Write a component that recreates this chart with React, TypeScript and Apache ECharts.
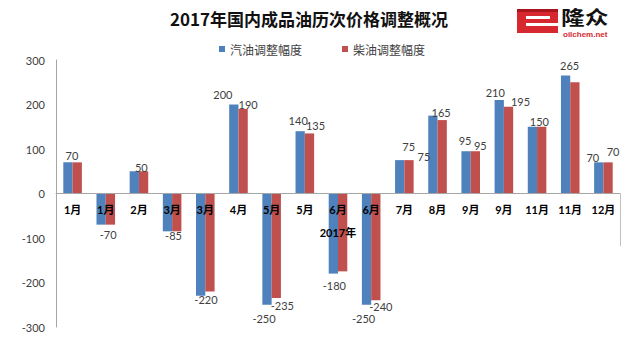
import React, { useEffect, useRef } from "react";
import * as echarts from "echarts";

// Adjustment rounds of 2017 (yuan / tonne)
const categories = ["1月", "1月", "2月", "3月", "3月", "4月", "5月", "5月", "6月", "6月", "7月", "8月", "9月", "9月", "11月", "11月", "12月"];
const gasoline = [70, -70, 50, -85, -230, 200, -250, 140, -180, -250, 75, 175, 95, 210, 150, 265, 70];
const diesel = [70, -70, 50, -85, -220, 190, -235, 135, -175, -240, 75, 165, 95, 195, 150, 250, 70];
const seriesNames = ["汽油调整幅度", "柴油调整幅度"];
const yMin = -300;
const yMax = 300;
const yStep = 100;

// Per-bar label placement (pixel nudges), null = no label on that bar
type Nudge = [number, number] | null;
const gasolineLabelNudge: Nudge[] = [[4, 4], [7, -1], [7, 7], [6, -6], null, [-11, 0], [-3, 3], [-2, 0], [1, 1], [-3, 3], [9, -3], null, [-1, 0], [-4, 3], [7, 5], [4, 0], [-6, 6]];
const dieselLabelNudge: Nudge[] = [null, null, null, null, [-4, -2], [5, 6], [6, -3], [6, 3], null, [5, -4], [15, 7], [-1, 3], [5, 5], [12, 5], null, null, [5, 0]];

const LATIN = "Lato, 'Noto Sans CJK SC', sans-serif";
const CJK = "'Noto Sans CJK SC', sans-serif";
const BLUE = "#4F81BD";
const RED = "#C0504D";

// plot area
const GRID_TOP = 60;
const GRID_BOTTOM = 17;
const GRID_LEFT = 56;
const GRID_RIGHT = 20;
const CHART_H = 344;

function withLabels(values: number[], nudges: Nudge[]) {
  return values.map((v, i) => {
    const n = nudges[i];
    return {
      value: v,
      label: n ? { show: true, offset: n } : { show: false },
    };
  });
}

export default function App() {
  const ref = useRef<HTMLDivElement>(null);

  useEffect(() => {
    if (!ref.current) return;
    const chart = echarts.init(ref.current, null, { renderer: "svg" });

    // the category axis sits on the zero line of the value axis
    const plotH = CHART_H - GRID_TOP - GRID_BOTTOM;
    const zeroFromBottom = (plotH * (0 - yMin)) / (yMax - yMin);

    const barLabel = {
      position: "outside",
      distance: 5,
      fontSize: 11,
      color: "#404040",
      fontFamily: LATIN,
    };
    chart.setOption({
      animation: false,
      backgroundColor: "#ffffff",
      title: {
        text: "2017年国内成品油历次价格调整概况",
        left: 170,
        top: 10,
        padding: 0,
        textStyle: { fontSize: 17, fontWeight: "bold", color: "#111", fontFamily: CJK },
      },
      legend: {
        data: seriesNames,
        left: 219,
        top: 43,
        padding: 0,
        icon: "rect",
        itemWidth: 6,
        itemHeight: 6,
        itemGap: 40,
        textStyle: { fontSize: 12, color: "#404040", fontFamily: CJK },
      },
      grid: {
        left: GRID_LEFT,
        right: GRID_RIGHT,
        top: GRID_TOP,
        bottom: GRID_BOTTOM,
        containLabel: false,
        outerBoundsMode: "none",
      },
      xAxis: {
        type: "category",
        data: categories,
        position: "bottom",
        offset: -zeroFromBottom,
        z: 5,
        axisLine: { onZero: false, lineStyle: { color: "#a6a6a6", width: 1 } },
        axisTick: { show: false },
        axisLabel: {
          interval: 0,
          margin: 10,
          fontSize: 11,
          fontWeight: "bold",
          color: "#000",
          fontFamily: LATIN,
        },
        name: "2017年",
        nameLocation: "middle",
        nameGap: 33,
        nameTextStyle: { fontSize: 11, fontWeight: "bold", color: "#000", fontFamily: LATIN },
      },
      yAxis: {
        type: "value",
        min: yMin,
        max: yMax,
        interval: yStep,
        axisLine: { show: true, lineStyle: { color: "#a6a6a6", width: 1 } },
        axisTick: { show: false },
        splitLine: { show: false },
        axisLabel: { fontSize: 11, color: "#404040", margin: 11, fontFamily: LATIN },
      },
      series: [
        {
          name: seriesNames[0],
          type: "bar",
          barWidth: "28%",
          barGap: "0%",
          itemStyle: { color: BLUE },
          label: barLabel,
          data: withLabels(gasoline, gasolineLabelNudge),
        },
        {
          name: seriesNames[1],
          type: "bar",
          barWidth: "28%",
          barGap: "0%",
          itemStyle: { color: RED },
          label: barLabel,
          data: withLabels(diesel, dieselLabelNudge),
        },
      ],
      graphic: [
        // closing tick of the category axis group
        {
          type: "line",
          shape: { x1: 620.5, y1: 193.5, x2: 620.5, y2: 246 },
          style: { stroke: "#bfbfbf", lineWidth: 1 },
        },
        // oilchem logo
        {
          type: "group",
          children: [
            { type: "rect", shape: { x: 517, y: 9, width: 41, height: 24 }, style: { fill: "#d7282f" } },
            { type: "rect", shape: { x: 517, y: 9, width: 41, height: 3 }, style: { fill: "#a8161c" } },
            { type: "rect", shape: { x: 526, y: 16, width: 24, height: 3 }, style: { fill: "#ffffff" } },
            { type: "rect", shape: { x: 526, y: 23, width: 32, height: 3 }, style: { fill: "#ffffff" } },
            {
              type: "text",
              x: 561,
              y: 7,
              scaleX: 1.25,
              style: { text: "隆众", font: "bold 19px 'Noto Sans CJK SC'", fill: "#111" },
            },
            {
              type: "text",
              x: 563,
              y: 30,
              style: { text: "oilchem.net", font: "bold 8px 'Liberation Sans'", fill: "#d7282f" },
            },
          ],
        },
      ],
    });
    return () => chart.dispose();
  }, []);

  return (
    <div
      ref={ref}
      style={{ position: "fixed", left: 0, top: 0, width: 640, height: 344, background: "#fff" }}
    />
  );
}
